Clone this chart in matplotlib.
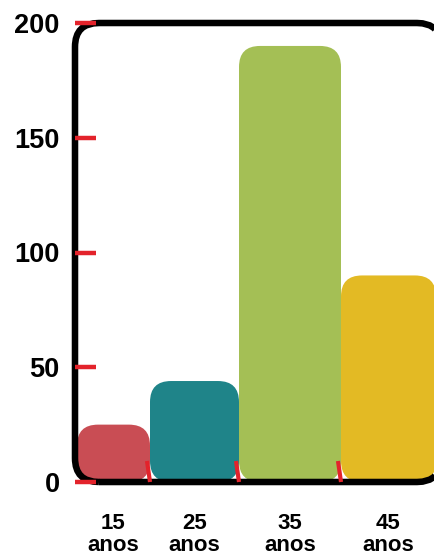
import matplotlib
matplotlib.use("Agg")
import matplotlib.pyplot as plt
from matplotlib.patches import FancyBboxPatch, Polygon
from matplotlib.markers import MarkerStyle, TICKUP
from matplotlib.transforms import Affine2D

plt.rcParams['font.family'] = ['Liberation Sans', 'DejaVu Sans']
plt.rcParams['font.weight'] = 'bold'

# age groups and counts
ages = ["15", "25", "35", "45"]
counts = [25, 44, 190, 90]
bar_colors = ["#c94d54", "#1f8489", "#a4bf55", "#e3ba24"]

yticks = [0, 50, 100, 150, 200]

# x axis runs in pixel units so the rounded corners stay circular
W, H = 435, 558
ax_left, ax_right, ax_top, ax_bottom = 75, 441, 23, 482
edges = [2, 75, 164, 266, 361]
tick_red = "#e3232b"

fig = plt.figure(figsize=(W / 100, H / 100), dpi=100)
ax = fig.add_axes([ax_left / W, 1 - ax_bottom / H,
                   (ax_right - ax_left) / W, (ax_bottom - ax_top) / H])
ax.set_xlim(0, ax_right - ax_left)
ax.set_ylim(0, 200)
aspect = 200 / (ax_bottom - ax_top)   # y units per pixel

for i, (c, col) in enumerate(zip(counts, bar_colors)):
    x0, x1 = edges[i], edges[i + 1]
    bar = FancyBboxPatch((x0, 0), x1 - x0, c,
                         boxstyle="round,pad=0,rounding_size=21",
                         mutation_aspect=aspect, facecolor=col,
                         edgecolor="none", zorder=1.5)
    ax.add_patch(bar)

# rounded black frame; the curves are flattened first, since an unfilled
# bezier path running off the canvas gets mangled by the agg clipper
box = FancyBboxPatch((0, 0), ax_right - ax_left, 200,
                     boxstyle="round,pad=0,rounding_size=24",
                     mutation_aspect=aspect)
outline = box.get_path().to_polygons(closed_only=False)[0]
frame = Polygon(outline, closed=True, fill=False, edgecolor="black",
                linewidth=4.7, clip_on=False, zorder=2)
ax.add_patch(frame)

for s in ax.spines.values():
    s.set_visible(False)
ax.set_axisbelow(False)

ax.set_yticks(yticks)
ax.set_yticklabels([str(t) for t in yticks])
ax.tick_params(axis="y", direction="in", length=15, width=3.2,
               color=tick_red, pad=11, labelsize=19.5)

# red separators between bars, labels centred under each bar
ax.set_xticks(edges[1:-1])
ax.set_xticklabels([])
ax.tick_params(axis="x", which="major", direction="in", length=15,
               width=3, color=tick_red)
slanted = MarkerStyle(TICKUP, transform=Affine2D().rotate_deg(9))
for t in ax.xaxis.get_major_ticks():
    t.tick1line.set_marker(slanted)

centers = [(edges[i] + edges[i + 1]) / 2 for i in range(len(ages))]
ax.set_xticks(centers, minor=True)
ax.set_xticklabels([a + "\nanos" for a in ages], minor=True)
ax.tick_params(axis="x", which="minor", length=0, pad=22, labelsize=16)
for lab in ax.get_xticklabels(minor=True):
    lab.set_linespacing(1.1)

fig.savefig("out.png", dpi=100)
